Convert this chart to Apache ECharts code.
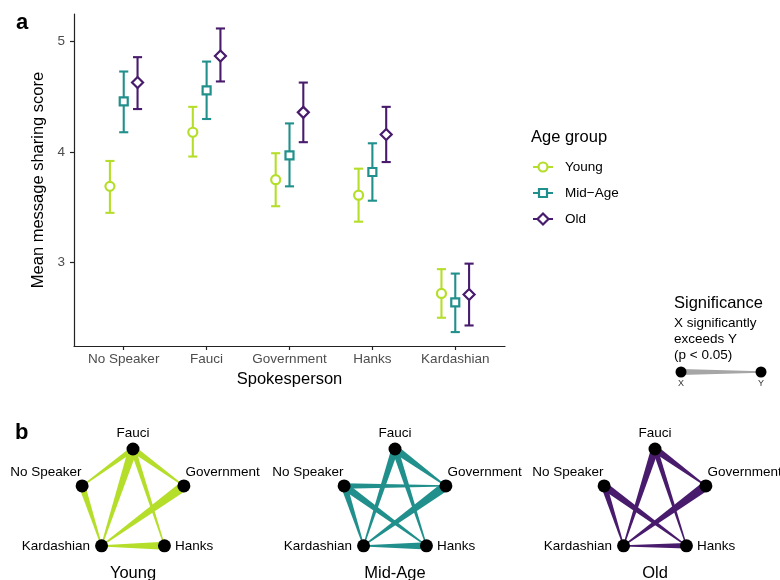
<!DOCTYPE html>
<html><head><meta charset="utf-8">
<script src="https://cdn.jsdelivr.net/npm/echarts@6/dist/echarts.min.js"></script>
<style>html,body{margin:0;padding:0;background:#fff}#c{width:780px;height:580px}</style>
</head><body><div id="c"></div>
<script>
// ---------- data ----------
const spokespersons = ['No Speaker', 'Fauci', 'Government', 'Hanks', 'Kardashian'];
const ageGroups = ['Young', 'Mid-Age', 'Old'];
const youngMean = [3.69, 4.18, 3.75, 3.61, 2.72];
const youngLow  = [3.45, 3.96, 3.51, 3.37, 2.50];
const youngHigh = [3.92, 4.41, 3.99, 3.85, 2.94];
const midMean   = [4.46, 4.56, 3.97, 3.82, 2.64];
const midLow    = [4.18, 4.30, 3.69, 3.56, 2.37];
const midHigh   = [4.73, 4.82, 4.26, 4.08, 2.90];
const oldMean   = [4.63, 4.87, 4.36, 4.16, 2.71];
const oldLow    = [4.39, 4.64, 4.09, 3.91, 2.43];
const oldHigh   = [4.86, 5.12, 4.63, 4.41, 2.99];
const yTicks = [3, 4, 5];
// significance edges: [X (exceeds), Y, relative strength]
const youngEdges = [
  ['Fauci', 'No Speaker', 0.55], ['Fauci', 'Kardashian', 0.9], ['Fauci', 'Government', 0.65],
  ['Fauci', 'Hanks', 0.55], ['No Speaker', 'Kardashian', 0.65], ['Government', 'Kardashian', 1.0],
  ['Hanks', 'Kardashian', 0.8]
];
const midEdges = [
  ['Fauci', 'Kardashian', 0.72], ['Fauci', 'Hanks', 0.65], ['Fauci', 'Government', 0.78],
  ['No Speaker', 'Government', 0.55], ['No Speaker', 'Hanks', 0.78], ['No Speaker', 'Kardashian', 0.65],
  ['Government', 'Kardashian', 0.95], ['Hanks', 'Kardashian', 0.72]
];
const oldEdges = [
  ['Fauci', 'Kardashian', 0.78], ['Fauci', 'Hanks', 0.55], ['Fauci', 'Government', 0.72],
  ['No Speaker', 'Hanks', 0.78], ['No Speaker', 'Kardashian', 0.6],
  ['Government', 'Kardashian', 0.95], ['Hanks', 'Kardashian', 0.55]
];

// ---------- styling / layout ----------
const FONT = '"Liberation Sans", Arial, Helvetica, sans-serif';
const colors = ['#b5de2b', '#21908c', '#481b6d'];
const symbols = ['circle', 'rect', 'diamond'];
const symbolSizes = [9, 8, 11];
const dodge = [-1 / 6, 0, 1 / 6];
const capHalf = 0.055;
const means = [youngMean, midMean, oldMean];
const lows = [youngLow, midLow, oldLow];
const highs = [youngHigh, midHigh, oldHigh];
const networks = [youngEdges, midEdges, oldEdges];
const nodeAngles = { 'Fauci': 90, 'Government': 18, 'Hanks': -54, 'Kardashian': -126, 'No Speaker': 162 };
const nodePos = n => [Math.cos(nodeAngles[n] * Math.PI / 180), Math.sin(nodeAngles[n] * Math.PI / 180)];
const netCenters = [133, 395, 655];
const netCY = 502.5, netR = 53.5;
const maxEdgeW = 10, minEdgeW = 1.2;
const labelCfg = {
  'Fauci': { position: 'top', distance: 2 },
  'No Speaker': { position: 'left', distance: 0, offset: [6, -14] },
  'Government': { position: 'right', distance: 0, offset: [-5, -14] },
  'Kardashian': { position: 'left', distance: 5 },
  'Hanks': { position: 'right', distance: 4 }
};

const grids = [{ left: 74, top: 14, width: 431, height: 332 }];
const xAxes = [{
  gridIndex: 0, type: 'value', min: 0.4, max: 5.6,
  name: 'Spokesperson', nameLocation: 'middle', nameGap: 23,
  nameTextStyle: { fontFamily: FONT, fontSize: 16.5, color: '#000' },
  axisLine: { show: true, lineStyle: { color: '#222', width: 1.2 } },
  axisTick: { show: true, length: 4, lineStyle: { color: '#222', width: 1.2 }, customValues: [1, 2, 3, 4, 5] },
  axisLabel: { customValues: [1, 2, 3, 4, 5], formatter: v => spokespersons[Math.round(v) - 1] || '',
    fontFamily: FONT, fontSize: 13.5, color: '#4d4d4d', margin: 6 },
  splitLine: { show: false }
}];
const yAxes = [{
  gridIndex: 0, type: 'value', min: 2.244, max: 5.251,
  name: 'Mean message sharing score', nameLocation: 'middle', nameGap: 20,
  nameTextStyle: { fontFamily: FONT, fontSize: 16.5, color: '#000' },
  axisLine: { show: true, lineStyle: { color: '#222', width: 1.2 } },
  axisTick: { show: true, length: 4, lineStyle: { color: '#222', width: 1.2 }, customValues: yTicks },
  axisLabel: { customValues: yTicks, fontFamily: FONT, fontSize: 13.5, color: '#4d4d4d', margin: 9 },
  splitLine: { show: false }
}];

const series = [];
ageGroups.forEach((g, k) => {
  series.push({
    type: 'custom', name: g, xAxisIndex: 0, yAxisIndex: 0, silent: true, z: 2,
    data: spokespersons.map((s, i) => [i + 1 + dodge[k], lows[k][i], highs[k][i]]),
    encode: { x: 0, y: [1, 2] },
    renderItem: (params, api) => {
      const x = api.value(0), lo = api.value(1), hi = api.value(2);
      const pLo = api.coord([x, lo]), pHi = api.coord([x, hi]);
      const half = (api.coord([x + capHalf, hi])[0] - api.coord([x - capHalf, hi])[0]) / 2;
      const style = { stroke: colors[k], lineWidth: 2.1, fill: null };
      return { type: 'group', children: [
        { type: 'line', shape: { x1: pLo[0], y1: pLo[1], x2: pHi[0], y2: pHi[1] }, style },
        { type: 'line', shape: { x1: pHi[0] - half, y1: pHi[1], x2: pHi[0] + half, y2: pHi[1] }, style },
        { type: 'line', shape: { x1: pLo[0] - half, y1: pLo[1], x2: pLo[0] + half, y2: pLo[1] }, style }
      ] };
    }
  });
  series.push({
    type: 'scatter', name: g, xAxisIndex: 0, yAxisIndex: 0, z: 3, silent: true,
    data: spokespersons.map((s, i) => [i + 1 + dodge[k], means[k][i]]),
    symbol: symbols[k], symbolSize: symbolSizes[k],
    itemStyle: { color: '#fff', borderColor: colors[k], borderWidth: 2.2, opacity: 1 }
  });
});

networks.forEach((edges, k) => {
  const gi = k + 1;
  const cx = netCenters[k];
  grids.push({ left: cx - netR, top: netCY - netR, width: 2 * netR, height: 2 * netR });
  xAxes.push({ gridIndex: gi, type: 'value', min: -1, max: 1, show: false });
  yAxes.push({ gridIndex: gi, type: 'value', min: -1, max: 1, show: false });
  series.push({
    type: 'custom', xAxisIndex: gi, yAxisIndex: gi, silent: true, z: 2, clip: false,
    data: edges.map(([a, b, s]) => [...nodePos(a), ...nodePos(b), s]),
    encode: { x: [0, 2], y: [1, 3] },
    renderItem: (params, api) => {
      const A = api.coord([api.value(0), api.value(1)]);
      const B = api.coord([api.value(2), api.value(3)]);
      const wA = api.value(4) * maxEdgeW, wB = minEdgeW;
      const dx = B[0] - A[0], dy = B[1] - A[1];
      const L = Math.hypot(dx, dy);
      const nx = -dy / L, ny = dx / L;
      return { type: 'polygon', shape: { points: [
        [A[0] + nx * wA / 2, A[1] + ny * wA / 2],
        [B[0] + nx * wB / 2, B[1] + ny * wB / 2],
        [B[0] - nx * wB / 2, B[1] - ny * wB / 2],
        [A[0] - nx * wA / 2, A[1] - ny * wA / 2]
      ] }, style: { fill: colors[k] } };
    }
  });
  series.push({
    type: 'scatter', xAxisIndex: gi, yAxisIndex: gi, z: 3, silent: true,
    symbol: 'circle', symbolSize: 13, itemStyle: { color: '#000', opacity: 1 },
    data: spokespersons.map(n => ({
      name: n, value: nodePos(n),
      label: Object.assign({ show: true, formatter: '{b}', color: '#000', fontFamily: FONT, fontSize: 13.5 }, labelCfg[n])
    }))
  });
});

// ---------- graphic texts / legend ----------
const graphic = [];
const txt = (x, y, text, size, extra) => graphic.push({ type: 'text', x, y, silent: true,
  style: Object.assign({ text, fill: '#000', fontFamily: FONT, fontSize: size, align: 'left', verticalAlign: 'middle' }, extra || {}) });
txt(16, 22.5, 'a', 22, { fontWeight: 'bold' });
txt(15, 432.5, 'b', 22, { fontWeight: 'bold' });
txt(531, 137, 'Age group', 16.5);
const legY = [167, 193, 219];
ageGroups.forEach((g, k) => {
  const y = legY[k], c = colors[k], st = { fill: '#fff', stroke: c, lineWidth: 2.2 };
  graphic.push({ type: 'line', silent: true, shape: { x1: 533, y1: y, x2: 553, y2: y }, style: { stroke: c, lineWidth: 2 } });
  if (k === 0) graphic.push({ type: 'circle', silent: true, shape: { cx: 543, cy: y, r: 4.5 }, style: st });
  if (k === 1) graphic.push({ type: 'rect', silent: true, shape: { x: 539, y: y - 4, width: 8, height: 8 }, style: st });
  if (k === 2) graphic.push({ type: 'polygon', silent: true, shape: { points: [[543, y - 5.5], [548.5, y], [543, y + 5.5], [537.5, y]] }, style: st });
  txt(565, y, g.replace('-', '\u2212'), 13.5);
});
txt(674, 303, 'Significance', 16.5);
txt(674, 323, 'X significantly', 13.5);
txt(674, 339, 'exceeds Y', 13.5);
txt(674, 355, '(p < 0.05)', 13.5);
graphic.push({ type: 'polygon', silent: true, shape: { points: [[681, 369], [761, 371.2], [761, 372.8], [681, 375]] }, style: { fill: '#a6a6a6' } });
graphic.push({ type: 'circle', silent: true, shape: { cx: 681, cy: 372, r: 5.5 }, style: { fill: '#000' } });
graphic.push({ type: 'circle', silent: true, shape: { cx: 761, cy: 372, r: 5.5 }, style: { fill: '#000' } });
txt(681, 384, 'X', 9, { align: 'center', fill: '#333' });
txt(761, 384, 'Y', 9, { align: 'center', fill: '#333' });
ageGroups.forEach((g, k) => txt(netCenters[k], 573, g, 16.5, { align: 'center' }));

const chart = echarts.init(document.getElementById('c'), null, { renderer: 'canvas' });
chart.setOption({
  backgroundColor: '#fff',
  animation: false,
  grid: grids, xAxis: xAxes, yAxis: yAxes,
  series, graphic
});
</script></body></html>
